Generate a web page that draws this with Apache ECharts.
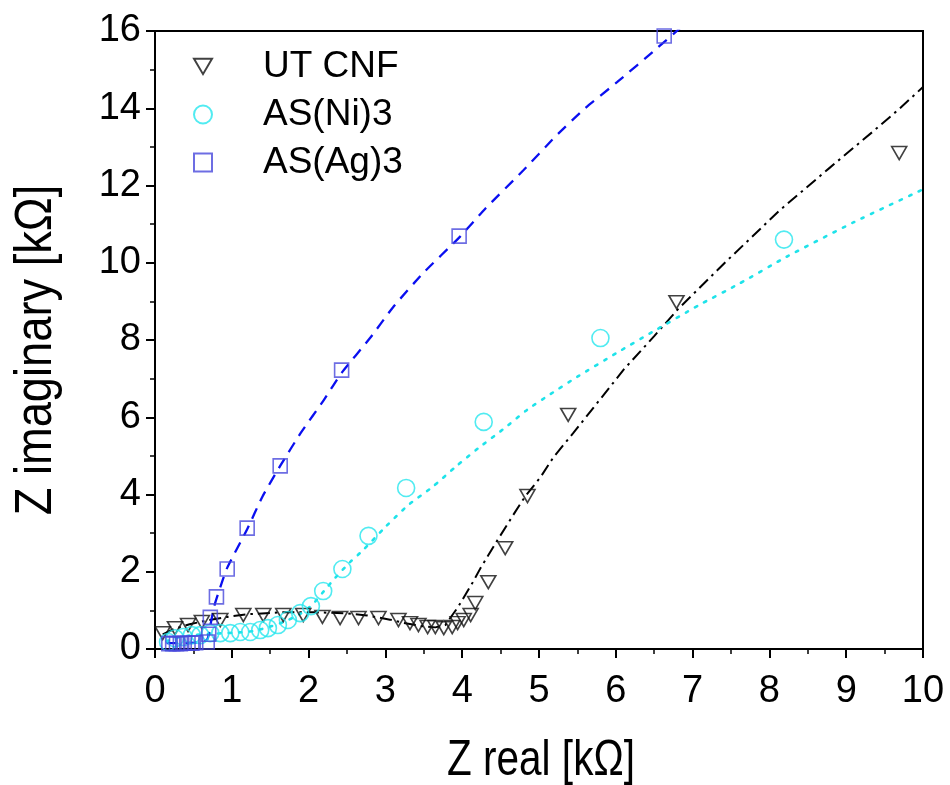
<!DOCTYPE html>
<html>
<head>
<meta charset="utf-8">
<script src="https://cdn.jsdelivr.net/npm/echarts@6/dist/echarts.min.js"></script>
<style>
  html, body { margin: 0; padding: 0; background: #fff; }
  #chart { width: 950px; height: 785px; }
</style>
</head>
<body>
<div id="chart"></div>
<script>
// Measured impedance points (Z real, Z imaginary) in kOhm
const utCnfX = [0.10, 0.26, 0.43, 0.61, 0.85, 1.15, 1.41, 1.67, 1.93, 2.18, 2.41, 2.65, 2.91, 3.17, 3.32, 3.43, 3.55, 3.65, 3.76, 3.87, 3.94, 4.02, 4.11, 4.17, 4.34, 4.56, 4.85, 5.38, 6.79, 9.69];
const utCnfY = [0.41, 0.54, 0.62, 0.70, 0.75, 0.88, 0.88, 0.88, 0.88, 0.83, 0.80, 0.80, 0.80, 0.75, 0.67, 0.62, 0.57, 0.57, 0.54, 0.57, 0.67, 0.75, 0.88, 1.19, 1.73, 2.61, 3.96, 6.06, 8.98, 12.84];

const niX = [0.17, 0.26, 0.37, 0.48, 0.59, 0.72, 0.85, 0.98, 1.11, 1.24, 1.37, 1.47, 1.60, 1.73, 1.89, 2.03, 2.19, 2.44, 2.78, 3.27, 4.28, 5.80, 8.19];
const niY = [0.18, 0.28, 0.31, 0.36, 0.36, 0.41, 0.41, 0.41, 0.44, 0.44, 0.49, 0.54, 0.62, 0.75, 0.93, 1.11, 1.50, 2.07, 2.93, 4.17, 5.88, 8.05, 10.60];

const agX = [0.18, 0.23, 0.28, 0.33, 0.38, 0.43, 0.48, 0.53, 0.68, 0.70, 0.72, 0.80, 0.94, 1.20, 1.63, 2.43, 3.96, 6.63];
const agY = [0.14, 0.14, 0.14, 0.14, 0.15, 0.15, 0.15, 0.16, 0.18, 0.38, 0.82, 1.35, 2.07, 3.13, 4.74, 7.22, 10.69, 15.87];

// Fitted curves
const utFitX = [0.10, 0.25, 0.45, 0.70, 0.94, 1.20, 1.67, 2.10, 2.50, 2.76, 3.06, 3.23, 3.45, 3.65, 3.78, 3.95, 4.13, 4.24, 4.46, 4.69, 4.82, 5.02, 5.19, 5.45, 5.61, 5.93, 6.11, 6.50, 6.81, 7.42, 8.13, 8.78, 9.35, 9.70, 10.0];
const utFitY = [0.38, 0.52, 0.64, 0.75, 0.83, 0.90, 0.95, 0.95, 0.92, 0.87, 0.76, 0.68, 0.60, 0.56, 0.62, 1.10, 1.70, 2.10, 2.82, 3.55, 3.95, 4.45, 4.97, 5.60, 6.00, 6.80, 7.25, 8.10, 8.80, 10.0, 11.35, 12.45, 13.4, 14.0, 14.55];

const niFitX = [0.15, 0.30, 0.50, 0.80, 1.10, 1.30, 1.50, 1.70, 1.90, 2.05, 2.20, 2.35, 2.54, 2.71, 3.00, 3.30, 3.61, 3.91, 4.21, 4.54, 4.85, 5.15, 5.50, 6.00, 6.47, 7.08, 7.60, 8.22, 9.10, 10.0];
const niFitY = [0.20, 0.30, 0.36, 0.40, 0.43, 0.47, 0.58, 0.72, 0.92, 1.15, 1.50, 1.85, 2.25, 2.56, 3.16, 3.73, 4.19, 4.71, 5.20, 5.70, 6.20, 6.60, 7.05, 7.65, 8.20, 8.90, 9.45, 10.15, 11.05, 11.90];

const agFitX = [0.15, 0.35, 0.55, 0.68, 0.72, 0.77, 0.85, 0.94, 1.20, 1.40, 1.63, 1.90, 2.20, 2.43, 2.80, 3.10, 3.50, 3.96, 4.30, 4.80, 5.21, 5.60, 6.02, 6.54, 6.88, 7.00];
const agFitY = [0.15, 0.15, 0.17, 0.25, 0.60, 1.10, 1.60, 2.10, 3.10, 3.95, 4.74, 5.60, 6.45, 7.15, 8.05, 8.85, 9.75, 10.65, 11.40, 12.40, 13.26, 14.00, 14.68, 15.56, 16.15, 16.35];

const xTicks = { min: 0, max: 10, step: 1 };
const yTicks = { min: 0, max: 16, step: 2 };
const xTitle = 'Z real [kΩ]';
const yTitle = 'Z imaginary [kΩ]';

function pairs(xs, ys) { return xs.map((x, i) => [x, ys[i]]); }

const FONT = "'Liberation Sans', Arial, sans-serif";
const downTriangle = 'path://M0,0 L20,0 L10,17 Z';

const chart = echarts.init(document.getElementById('chart'), null, { renderer: 'canvas' });

chart.setOption({
  backgroundColor: '#ffffff',
  animation: false,
  grid: {
    left: 155, right: 27, top: 31, bottom: 136,
    outerBoundsMode: 'none', containLabel: false,
    show: true, borderColor: '#000', borderWidth: 2, backgroundColor: 'transparent'
  },
  legend: {
    orient: 'vertical',
    left: 188, top: 43,
    itemWidth: 18, itemHeight: 18,
    itemGap: 11,
    data: ['UT CNF', 'AS(Ni)3', 'AS(Ag)3'],
    textStyle: { fontFamily: FONT, fontSize: 37, color: '#000', padding: [0, 0, 0, 46] }
  },
  // axis titles drawn in a condensed style
  graphic: [
    {
      type: 'text', x: 541, y: 761, scaleX: 0.81, silent: true,
      style: { text: xTitle, font: "50px 'Liberation Sans'", fill: '#000', align: 'center', verticalAlign: 'middle' }
    },
    {
      type: 'text', x: 37, y: 350, rotation: Math.PI / 2, scaleX: 0.87, silent: true,
      style: { text: yTitle, font: "52px 'Liberation Sans'", fill: '#000', align: 'center', verticalAlign: 'middle' }
    }
  ],
  xAxis: {
    type: 'value', min: xTicks.min, max: xTicks.max, interval: xTicks.step,
    axisLine: { show: true, lineStyle: { color: '#000', width: 2 } },
    axisTick: { show: true, inside: false, length: 9, lineStyle: { color: '#000', width: 2 } },
    minorTick: { show: true, splitNumber: 2, length: 5, lineStyle: { color: '#000', width: 1.5 } },
    splitLine: { show: false },
    axisLabel: { fontFamily: FONT, fontSize: 38, color: '#000', margin: 24 }
  },
  yAxis: {
    type: 'value', min: yTicks.min, max: yTicks.max, interval: yTicks.step,
    axisLine: { show: true, lineStyle: { color: '#000', width: 2 } },
    axisTick: { show: true, inside: false, length: 9, lineStyle: { color: '#000', width: 2 } },
    minorTick: { show: true, splitNumber: 2, length: 5, lineStyle: { color: '#000', width: 1.5 } },
    splitLine: { show: false },
    axisLabel: { fontFamily: FONT, fontSize: 38, color: '#000', margin: 14 }
  },
  series: [
    {
      name: 'UT CNF fit', type: 'line', data: pairs(utFitX, utFitY), showSymbol: false, symbol: 'none',
      lineStyle: { color: '#000', width: 2, type: [12, 5, 2.5, 5] }, z: 2, silent: true
    },
    {
      name: 'AS(Ni)3 fit', type: 'line', data: pairs(niFitX, niFitY), showSymbol: false, symbol: 'none',
      smooth: 0.2,
      lineStyle: { color: '#1fe3ea', width: 2.6, type: [2.5, 8], cap: 'round' }, z: 2, silent: true
    },
    {
      name: 'AS(Ag)3 fit', type: 'line', data: pairs(agFitX, agFitY), showSymbol: false, symbol: 'none',
      smooth: 0.2,
      lineStyle: { color: '#0a0ff0', width: 2.3, type: [11, 8] }, z: 2, silent: true
    },
    {
      name: 'UT CNF', type: 'scatter', data: pairs(utCnfX, utCnfY),
      symbol: downTriangle, symbolSize: [15, 13],
      itemStyle: { color: 'rgba(0,0,0,0)', borderColor: '#111', borderWidth: 1.6 }, z: 3
    },
    {
      name: 'AS(Ni)3', type: 'scatter', data: pairs(niX, niY),
      symbol: 'circle', symbolSize: 17,
      itemStyle: { color: 'rgba(0,0,0,0)', borderColor: '#26e6ee', borderWidth: 1.6 }, z: 3
    },
    {
      name: 'AS(Ag)3', type: 'scatter', data: pairs(agX, agY),
      symbol: 'rect', symbolSize: 14,
      itemStyle: { color: 'rgba(0,0,0,0)', borderColor: '#4848dc', borderWidth: 1.6 }, z: 3
    }
  ]
});
</script>
</body>
</html>
